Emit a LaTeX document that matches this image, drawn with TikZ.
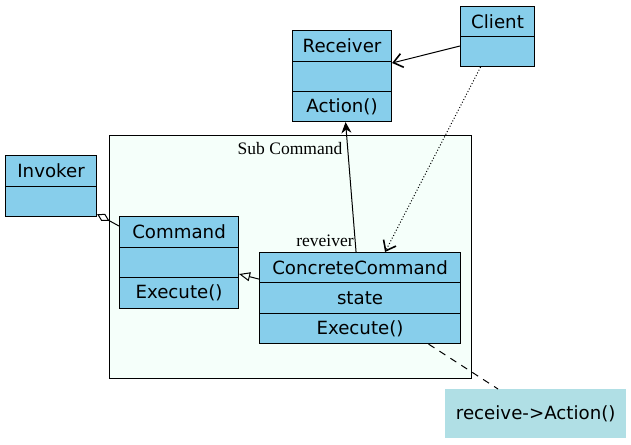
\documentclass[tikz,border=0pt]{standalone}
\usepackage{fontspec}
\setmainfont{Liberation Serif}
\newfontfamily\dejavu{DejaVu Sans}
\usetikzlibrary{arrows.meta,calc}
\definecolor{skyb}{HTML}{87CEEB}
\definecolor{mintc}{HTML}{F5FFFA}
\definecolor{powder}{HTML}{B0DFE5}
\begin{document}
\begin{tikzpicture}[x=1pt,y=-1pt,
  sec/.style={draw=black, fill=skyb, line width=1.1pt, inner sep=0pt, anchor=north west,
    font=\dejavu\fontsize{18.2}{20}\selectfont},
  lbl/.style={font=\fontsize{17.5}{19}\selectfont, inner sep=0pt},
  edge/.style={line width=1pt, black},
  vee/.style={-{Straight Barb[length=9pt,width=14pt,line width=1.6pt]}}
]
\useasboundingbox (0,0) rectangle (631,444);
% subgraph
\node[draw=black, fill=mintc, line width=1pt, minimum width=362pt, minimum height=243pt, inner sep=0pt, anchor=north west] (sub) at (109,135) {};
\node[lbl] (sublbl) at (290,149) {Sub Command};
% Receiver
\node[sec, minimum width=99pt, minimum height=31pt] (recvH) at (292,30) {Receiver};
\node[sec, minimum width=99pt, minimum height=30pt] (recvM) at (292,61) {};
\node[sec, minimum width=99pt, minimum height=30pt] (recvB) at (292,91) {Action()};
% Client
\node[sec, minimum width=74pt, minimum height=30pt] (clientH) at (460,6) {Client};
\node[sec, minimum width=74pt, minimum height=30pt] (clientB) at (460,36) {};
% Invoker
\node[sec, minimum width=91pt, minimum height=31pt] (invH) at (5,155) {Invoker};
\node[sec, minimum width=91pt, minimum height=30pt] (invB) at (5,186) {};
% Command
\node[sec, minimum width=119pt, minimum height=31pt] (cmdH) at (119,216) {Command};
\node[sec, minimum width=119pt, minimum height=30pt] (cmdM) at (119,247) {};
\node[sec, minimum width=119pt, minimum height=31pt] (cmdB) at (119,277) {Execute()};
% ConcreteCommand
\node[sec, minimum width=201pt, minimum height=30pt] (ccH) at (259,252) {ConcreteCommand};
\node[sec, minimum width=201pt, minimum height=31pt] (ccM) at (259,282) {state};
\node[sec, minimum width=201pt, minimum height=30pt] (ccB) at (259,313) {Execute()};
% note
\node[fill=powder, minimum width=181pt, minimum height=49pt, inner sep=0pt, anchor=north west,
  font=\dejavu\fontsize{18.2}{20}\selectfont] (note) at (445,389) {receive->Action()};
% edges
\draw[edge, vee] ($(clientB.north west)+(0,10)$) -- ($(recvM.north east)+(0,2)$);
\draw[edge, vee, dotted] ($(clientB.south)+(-17,0)$) -- ($(ccH.north)+(25,0)$);
\draw[edge, -{Stealth[length=11pt,width=10pt]}] ($(ccH.north)+(-4,0)$) -- ($(recvB.south)+(3.5,0)$);
\node[lbl] (recvlbl) at (325,241) {reveiver};
\draw[edge, -{Triangle[open,length=11pt,width=9pt]}] ($(ccH.south west)+(0,-4)$) -- ($(cmdB.north east)+(0,-3)$);
\draw[edge, {Diamond[open,length=14pt,width=8pt]}-] ($(invB.south east)+(0,-3)$) -- ($(cmdH.north west)+(0,10)$);
\draw[edge, dashed, dash pattern=on 7pt off 6pt] ($(ccB.south)+(68.5,0)$) -- ($(note.north west)+(53,0)$);
\end{tikzpicture}
\end{document}
